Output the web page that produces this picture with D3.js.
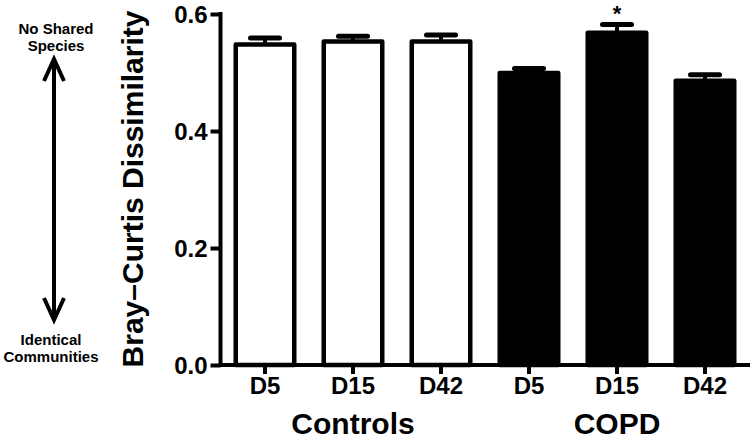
<!DOCTYPE html>
<html>
<head>
<meta charset="utf-8">
<script src="https://d3js.org/d3.v7.min.js"></script>
<style>
  body { margin: 0; background: #fff; }
  svg text { font-family: "Liberation Sans", Arial, sans-serif; font-weight: bold; fill: #000; }
</style>
</head>
<body>
<svg id="chart" width="754" height="441"></svg>
<script>
// data
var days = ["D5", "D15", "D42", "D5", "D15", "D42"];
var groups = ["Controls", "Controls", "Controls", "COPD", "COPD", "COPD"];
var groupNames = ["Controls", "COPD"];
var means = [0.548, 0.553, 0.553, 0.499, 0.568, 0.486];
var sems = [0.011, 0.009, 0.011, 0.008, 0.014, 0.010];
var starred = [false, false, false, false, true, false];
var yTicks = [0, 0.2, 0.4, 0.6];

var svg = d3.select("#chart");

var keys = days.map(function (d, i) { return i; });

// scales
var x = d3.scaleBand()
    .domain(keys)
    .range([221, 749])
    .paddingInner(0.335)
    .paddingOuter(0.1675);

var y = d3.scaleLinear()
    .domain([0, 0.6])
    .range([365, 14]);

// bars
svg.append("g")
    .selectAll("rect")
    .data(keys)
    .enter()
    .append("rect")
    .attr("x", function (i) { return x(i); })
    .attr("y", function (i) { return y(means[i]); })
    .attr("width", x.bandwidth())
    .attr("height", function (i) { return y(0) - y(means[i]); })
    .attr("fill", function (i) { return groups[i] == "COPD" ? "#000" : "#fff"; })
    .attr("stroke", "#000")
    .attr("stroke-width", 4.5)
    .attr("stroke-linejoin", "round");

// error bars (upper only)
var err = svg.append("g").selectAll("g")
    .data(keys)
    .enter()
    .append("g");

err.append("line")
    .attr("x1", function (i) { return x(i) + x.bandwidth() / 2; })
    .attr("x2", function (i) { return x(i) + x.bandwidth() / 2; })
    .attr("y1", function (i) { return y(means[i]); })
    .attr("y2", function (i) { return y(means[i] + sems[i]); })
    .attr("stroke", "#000")
    .attr("stroke-width", 4);

err.append("line")
    .attr("x1", function (i) { return x(i) + x.bandwidth() / 2 - 14.5; })
    .attr("x2", function (i) { return x(i) + x.bandwidth() / 2 + 14.5; })
    .attr("y1", function (i) { return y(means[i] + sems[i]); })
    .attr("y2", function (i) { return y(means[i] + sems[i]); })
    .attr("stroke", "#000")
    .attr("stroke-width", 5)
    .attr("stroke-linecap", "round");

// significance star
svg.append("g")
    .selectAll("text")
    .data(keys.filter(function (i) { return starred[i]; }))
    .enter()
    .append("text")
    .attr("x", function (i) { return x(i) + x.bandwidth() / 2; })
    .attr("y", function (i) { return y(means[i] + sems[i]) - 4; })
    .attr("text-anchor", "middle")
    .style("font-size", "22px")
    .text("*");

// y axis
var yAxis = svg.append("g")
    .attr("transform", "translate(220.5,0)")
    .call(d3.axisLeft(y).tickValues(yTicks).tickFormat(d3.format(".1f")).tickSize(10).tickSizeOuter(0));

// x axis
var xAxis = svg.append("g")
    .attr("transform", "translate(0,365)")
    .call(d3.axisBottom(x).tickFormat(function (i) { return days[i]; }).tickSize(9).tickSizeOuter(0));

xAxis.select(".domain").attr("d", "M219,0H750");

[yAxis, xAxis].forEach(function (ax) {
    ax.select(".domain").attr("stroke", "#000").attr("stroke-width", 4);
    ax.selectAll(".tick line").attr("stroke", "#000").attr("stroke-width", 4);
    ax.selectAll(".tick text").style("font-size", "24px").attr("fill", "#000");
});
yAxis.select(".domain").attr("d", "M0,12V367");
yAxis.selectAll(".tick text").attr("x", -13).attr("dy", "0.34em");
xAxis.selectAll(".tick text").attr("y", 12).attr("dy", "0.71em");

// group labels under the middle bar of each group
svg.append("g")
    .selectAll("text")
    .data(groupNames)
    .enter()
    .append("text")
    .attr("x", function (g) {
        var idx = keys.filter(function (i) { return groups[i] == g; });
        return x(idx[1]) + x.bandwidth() / 2;
    })
    .attr("y", 434)
    .attr("text-anchor", "middle")
    .style("font-size", "30px")
    .text(function (g) { return g; });

// y axis title
svg.append("text")
    .attr("transform", "translate(143,189) rotate(-90)")
    .attr("text-anchor", "middle")
    .style("font-size", "30px")
    .text("Bray\u2013Curtis Dissimilarity");

// left annotation: double arrow with captions
var ann = svg.append("g");
ann.append("text").attr("x", 56).attr("y", 34).attr("text-anchor", "middle").style("font-size", "15px").text("No Shared");
ann.append("text").attr("x", 56).attr("y", 51).attr("text-anchor", "middle").style("font-size", "15px").text("Species");
ann.append("text").attr("x", 51).attr("y", 345).attr("text-anchor", "middle").style("font-size", "15px").text("Identical");
ann.append("text").attr("x", 51).attr("y", 362).attr("text-anchor", "middle").style("font-size", "15px").text("Communities");

var ax0 = 54, top0 = 59, bot0 = 320;
ann.append("line")
    .attr("x1", ax0).attr("x2", ax0)
    .attr("y1", top0 + 1).attr("y2", bot0 - 1)
    .attr("stroke", "#000").attr("stroke-width", 4);
ann.append("path")
    .attr("d", "M" + (ax0 - 10) + "," + (top0 + 22) + "L" + ax0 + "," + top0 + "L" + (ax0 + 10) + "," + (top0 + 22))
    .attr("fill", "none").attr("stroke", "#000").attr("stroke-width", 4);
ann.append("path")
    .attr("d", "M" + (ax0 - 10) + "," + (bot0 - 22) + "L" + ax0 + "," + bot0 + "L" + (ax0 + 10) + "," + (bot0 - 22))
    .attr("fill", "none").attr("stroke", "#000").attr("stroke-width", 4);
</script>
</body>
</html>
